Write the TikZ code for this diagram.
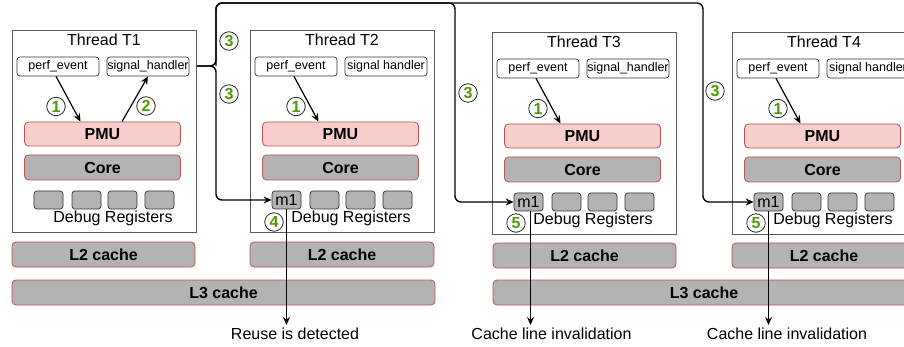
\documentclass[tikz,border=0pt]{standalone}
\usepackage{fontspec}
\setmainfont{Liberation Sans}
\usetikzlibrary{arrows.meta}

\definecolor{pmufill}{HTML}{F8CECC}
\definecolor{redline}{HTML}{B85450}
\definecolor{unitgray}{HTML}{B3B3B3}
\definecolor{stepgreen}{HTML}{4D9900}
\definecolor{frameline}{HTML}{5A5A5A}

\tikzset{
  threadbox/.style={draw=frameline, fill=white, line width=0.8pt,
    minimum width=184pt, minimum height=202pt, anchor=north west, inner sep=0pt},
  apibox/.style={draw=black!80, line width=0.7pt, rounded corners=3pt,
    minimum width=82pt, minimum height=19pt, inner sep=0pt,
    font=\fontsize{12.5}{14}\selectfont},
  pmubox/.style={draw=redline, fill=pmufill, line width=0.8pt, rounded corners=4pt,
    minimum width=156pt, minimum height=24pt, inner sep=0pt,
    font=\fontsize{16}{19}\selectfont\bfseries},
  corebox/.style={pmubox, fill=unitgray, minimum height=25pt},
  regbox/.style={draw=black!80, fill=unitgray, line width=0.7pt, rounded corners=3pt,
    minimum width=29pt, minimum height=18pt, inner sep=0pt,
    font=\fontsize{16}{19}\selectfont},
  cachebox/.style={draw=redline, fill=unitgray, line width=0.8pt, rounded corners=4pt,
    minimum height=25pt, inner sep=0pt, font=\fontsize{16}{19}\selectfont\bfseries},
  stepnum/.style={circle, draw=black!85, fill=white, line width=0.8pt, minimum size=18.5pt,
    inner sep=0pt, text=stepgreen, font=\fontsize{16}{16}\selectfont\bfseries},
  plaintext/.style={inner sep=0pt, font=\fontsize{16}{19}\selectfont},
  flow/.style={line width=1.4pt, rounded corners=6pt},
  arrowhead/.style={-{Stealth[length=8pt,width=7pt]}},
}

\begin{document}
\begin{tikzpicture}[x=1pt, y=-1pt]
\useasboundingbox (0,0) rectangle (904,347);
\clip (0,0) rectangle (904,347);

% four hardware threads, each with its own PMU, core and debug registers
\foreach \i/\dx/\dy/\sig in {1/0/0/signal\_handler, 2/238/0/signal handler,
                               3/480/2/signal\_handler, 4/720/2/signal handler}{
  \begin{scope}[shift={(\dx,\dy)}]
    \node[threadbox] (t\i) at (12,30) {};
    \node[plaintext, anchor=base] (title\i) at (104,46) {Thread T\i};
    \node[apibox] (pe\i) at (58,66.5) {perf\_event};
    \node[apibox] (sh\i) at (148,66.5) {\sig};
    \node[pmubox] (pmu\i) at (102.5,134) {PMU};
    \node[corebox] (core\i) at (102.5,167.5) {Core};
    \node[regbox] (r\i a) at (48.5,200) {\ifnum\i=1 \else m1\fi};
    \node[regbox] (r\i b) at (86.5,200) {};
    \node[regbox] (r\i c) at (122.5,200) {};
    \node[regbox] (r\i d) at (159.5,200) {};
    \node[plaintext, anchor=base] (dbg\i) at (113,223) {Debug Registers};
    \draw[line width=1.2pt, arrowhead] ([xshift=-2pt]pe\i.south) -- ([xshift=-22pt]pmu\i.north);
    \node[stepnum] (s1\i) at (\ifnum\i=1 56\else 58\fi,106.5) {1};
  \end{scope}
}

% the PMU of T1 raises the signal handler
\draw[line width=1.2pt, arrowhead] ([xshift=19.5pt]pmu1.north) -- (sh1.south);
\node[stepnum] (s21) at (146,106) {2};

% caches
\node[cachebox, minimum width=183pt] (l2a) at (103.5,254.5) {L2 cache};
\node[cachebox, minimum width=184pt] (l2b) at (342,254.5) {L2 cache};
\node[cachebox, minimum width=183pt] (l2c) at (584.5,255.5) {L2 cache};
\node[cachebox, minimum width=184pt] (l2d) at (824,255.5) {L2 cache};
\node[cachebox, minimum width=423pt] (l3a) at (223.5,292.5) {L3 cache};
\node[cachebox, minimum width=422pt] (l3b) at (704,292.5) {L3 cache};

% watchpoints armed in the other threads
\coordinate (jn) at (216,66);
\draw[flow, arrowhead] (t1.east |- jn) -- (jn) -- (216,3) -- (703,3) |- (r4a.west);
\draw[flow, arrowhead] (jn) -- (216,3) -- (455,3) |- (r3a.west);
\draw[flow, arrowhead] (t1.east |- jn) -- (jn) |- (r2a.west);

\node[stepnum] (s3a) at (229,41) {3};
\node[stepnum] (s3b) at (229,94) {3};
\node[stepnum] (s3c) at (468,93) {3};
\node[stepnum] (s3d) at (715,91) {3};

% outcomes of the trapped accesses
\node[plaintext, anchor=base] (out2) at (295,339) {Reuse is detected};
\node[plaintext, anchor=base] (out3) at (551.5,339) {Cache line invalidation};
\node[plaintext, anchor=base] (out4) at (787,339) {Cache line invalidation};

\draw[line width=1.2pt, arrowhead] (r2a.south) -- (r2a.south |- 0,325);
\draw[line width=1.2pt, arrowhead] ([xshift=2pt]r3a.south) -- ([xshift=2pt]r3a.south |- 0,325);
\draw[line width=1.2pt, arrowhead] (r4a.south) -- (r4a.south |- 0,325);

\node[stepnum] (s4) at (274,222) {4};
\node[stepnum] (s5a) at (516,223) {5};
\node[stepnum] (s5b) at (756,223) {5};
\end{tikzpicture}
\end{document}
